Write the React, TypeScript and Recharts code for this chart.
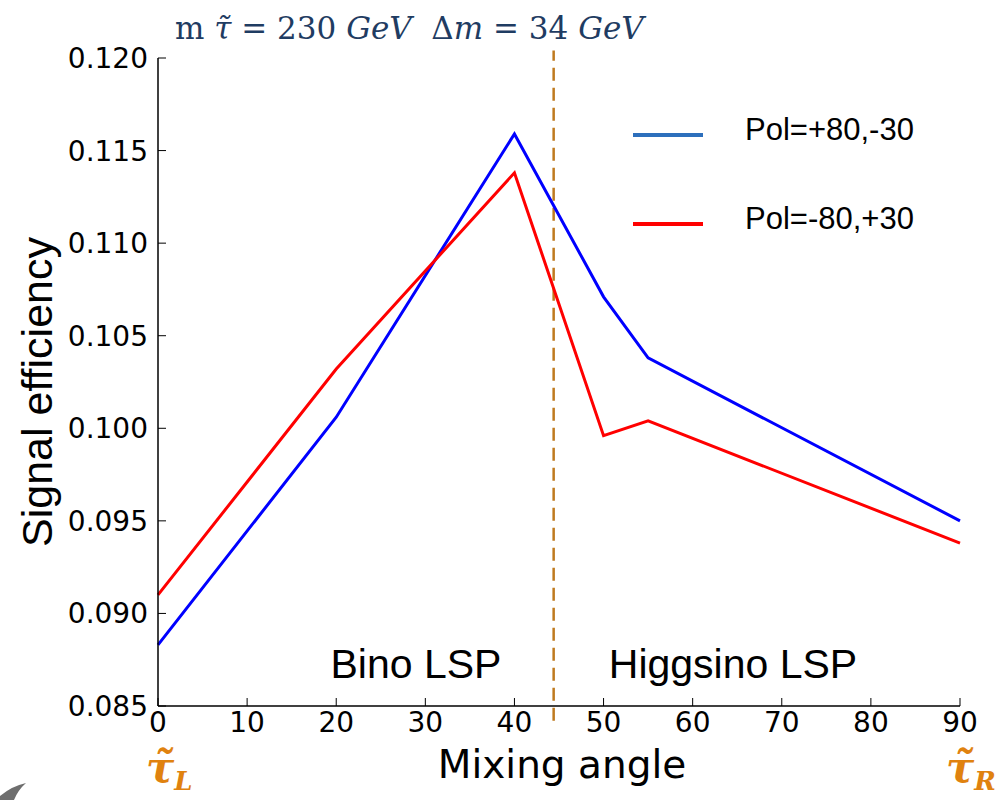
import { LineChart, Line, XAxis, YAxis, ReferenceLine, Legend, Customized } from "recharts";

// mixing angle (deg) and signal efficiency for the two beam polarisations
const angles = [0, 20, 40, 50, 55, 90];
const polPlus = [0.0883, 0.1006, 0.1159, 0.1071, 0.1038, 0.095];
const polMinus = [0.091, 0.1032, 0.1138, 0.0996, 0.1004, 0.0938];

const xTicks = [0, 10, 20, 30, 40, 50, 60, 70, 80, 90];
const yTicks = [0.085, 0.09, 0.095, 0.1, 0.105, 0.11, 0.115, 0.12];

const boundaryAngle = 44.4; // Bino / Higgsino LSP boundary
const boundarySpan = [0.0842, 0.1204];

const seriesNames = ["Pol=+80,-30", "Pol=-80,+30"];

const data = angles.map((a, i) => ({ angle: a, polPlus: polPlus[i], polMinus: polMinus[i] }));

const tickFont = { fontSize: 28, fill: "#000", fontFamily: "DejaVu Sans" };
const orange = "#E0820F";

function LegendBox() {
  const rows = [
    { name: seriesNames[0], color: "#2D6FBC", top: 0 },
    { name: seriesNames[1], color: "#FF0000", top: 89 },
  ];
  return (
    <div style={{ position: "relative", width: 330, height: 130 }}>
      {rows.map((r) => (
        <div key={r.name}>
          <div
            style={{
              position: "absolute",
              left: 3,
              top: r.top + 25,
              width: 70,
              height: 4,
              background: r.color,
            }}
          />
          <div
            style={{
              position: "absolute",
              left: 115,
              top: r.top + 4,
              fontFamily: "Liberation Sans",
              fontSize: 31,
              lineHeight: "36px",
              color: "#000",
              whiteSpace: "nowrap",
            }}
          >
            {r.name}
          </div>
        </div>
      ))}
    </div>
  );
}

function Annotations() {
  return (
    <g>
      <text x={175} y={39} fill="#1F3C62" fontFamily="DejaVu Serif" fontSize={31} style={{ whiteSpace: "pre" }}>
        <tspan>m </tspan>
        <tspan fontStyle="italic">τ̃</tspan>
        <tspan> = 230 </tspan>
        <tspan fontStyle="italic">GeV</tspan>
        <tspan>{"  Δ"}</tspan>
        <tspan fontStyle="italic">m</tspan>
        <tspan> = 34 </tspan>
        <tspan fontStyle="italic">GeV</tspan>
      </text>
      <text x={416} y={678} textAnchor="middle" fontFamily="Liberation Sans" fontSize={41} fill="#000">
        Bino LSP
      </text>
      <text x={733} y={678} textAnchor="middle" fontFamily="Liberation Sans" fontSize={41} fill="#000">
        Higgsino LSP
      </text>
      <text x={562} y={778} textAnchor="middle" fontFamily="DejaVu Sans" fontSize={39} fill="#000">
        Mixing angle
      </text>
      <text
        x={0}
        y={0}
        transform="translate(52 392) rotate(-90)"
        textAnchor="middle"
        fontFamily="Liberation Sans"
        fontSize={43}
        fill="#000"
      >
        Signal efficiency
      </text>
      <text x={146} y={782} fill={orange} fontFamily="DejaVu Serif" fontWeight="bold" fontStyle="italic" fontSize={42}>
        τ̃<tspan fontSize={26} dy={8}>L</tspan>
      </text>
      <text x={946} y={782} fill={orange} fontFamily="DejaVu Serif" fontWeight="bold" fontStyle="italic" fontSize={42}>
        τ̃<tspan fontSize={26} dy={8}>R</tspan>
      </text>
      <path d="M0 800 L0 796 Q12 786 26 783 Q18 790 14 800 Z" fill="#6E6E6E" />
    </g>
  );
}

export default function App() {
  return (
    <div style={{ position: "absolute", left: 0, top: 0, background: "#fff" }}>
      <LineChart
        width={1001}
        height={800}
        data={data}
        margin={{ top: 58, right: 41, left: 0, bottom: 0 }}
      >
        <XAxis
          dataKey="angle"
          type="number"
          domain={[0, 90]}
          ticks={xTicks}
          height={94}
          tick={tickFont}
          tickSize={-8}
          tickMargin={14}
          axisLine={{ stroke: "#000", strokeWidth: 1.5 }}
          tickLine={{ stroke: "#000" }}
          interval={0}
        />
        <XAxis
          xAxisId="top"
          orientation="top"
          dataKey="angle"
          type="number"
          domain={[0, 90]}
          ticks={xTicks}
          height={0}
          tick={false}
          tickSize={-8}
          axisLine={{ stroke: "#000", strokeWidth: 1.5 }}
          tickLine={{ stroke: "#000" }}
        />
        <YAxis
          type="number"
          domain={[0.085, 0.12]}
          ticks={yTicks}
          width={158}
          tick={tickFont}
          tickSize={-8}
          tickMargin={18}
          tickFormatter={(v: number) => v.toFixed(3)}
          axisLine={{ stroke: "#000", strokeWidth: 1.5 }}
          tickLine={{ stroke: "#000" }}
          interval={0}
        />
        <YAxis
          yAxisId="right"
          orientation="right"
          type="number"
          domain={[0.085, 0.12]}
          ticks={yTicks}
          width={0}
          tick={false}
          tickSize={-8}
          axisLine={{ stroke: "#000", strokeWidth: 1.5 }}
          tickLine={{ stroke: "#000" }}
        />
        <ReferenceLine
          segment={[
            { x: boundaryAngle, y: boundarySpan[0] },
            { x: boundaryAngle, y: boundarySpan[1] },
          ]}
          ifOverflow="visible"
          stroke="#BF7A1F"
          strokeWidth={2.5}
          strokeDasharray="13 7"
        />
        <Line
          type="linear"
          dataKey="polPlus"
          name={seriesNames[0]}
          stroke="#0000FF"
          strokeWidth={3}
          dot={false}
          isAnimationActive={false}
        />
        <Line
          type="linear"
          dataKey="polMinus"
          name={seriesNames[1]}
          stroke="#FF0000"
          strokeWidth={3}
          dot={false}
          isAnimationActive={false}
        />
        <Legend
          layout="vertical"
          align="center"
          verticalAlign="middle"
          content={() => <LegendBox />}
          wrapperStyle={{ position: "absolute", left: 630, top: 108, width: 330, height: 130 }}
        />
        <Customized component={<Annotations />} />
      </LineChart>
    </div>
  );
}
